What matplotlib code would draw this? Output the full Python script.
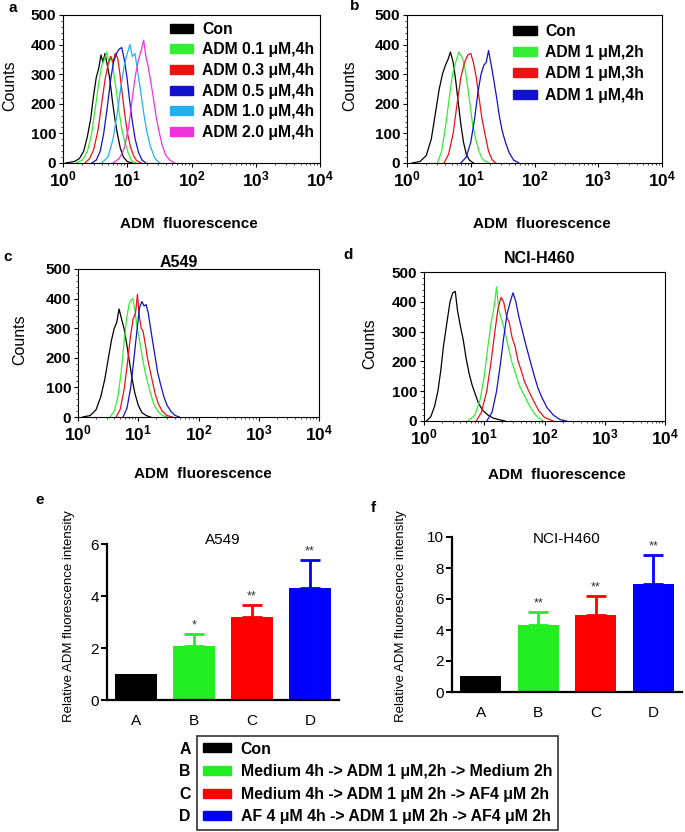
import matplotlib
matplotlib.use("Agg")
import matplotlib.pyplot as plt
import matplotlib.ticker as mticker
from matplotlib.patches import Patch
import numpy as np

plt.rcParams["font.family"] = ["Liberation Sans", "DejaVu Sans"]
plt.rcParams["mathtext.fontset"] = "custom"
plt.rcParams["mathtext.rm"] = "Liberation Sans"
plt.rcParams["mathtext.bf"] = "Liberation Sans:bold"

W, H = 685, 832

# ── Data: flow histograms (fluorescence, counts) ──────────────────────────────
# panel a
a_labels = ["Con", "ADM 0.1 μM,4h", "ADM 0.3 μM,4h", "ADM 0.5 μM,4h",
            "ADM 1.0 μM,4h", "ADM 2.0 μM,4h"]
a_colors = ["#000000", "#33ee33", "#ee1111", "#1111cc", "#22b0ee", "#ee33dd"]
a_con_x = [1.1, 1.5, 1.8, 2.1, 2.4, 2.7, 3.0, 3.3, 3.6, 3.9, 4.2, 4.5, 4.9, 5.3, 5.8, 6.4, 7.0, 7.8, 8.7, 10, 12]
a_con_y = [0, 5, 15, 40, 90, 150, 230, 290, 320, 365, 340, 370, 330, 290, 220, 150, 100, 50, 20, 5, 0]
a_01_x = [1.6, 2.0, 2.4, 2.8, 3.2, 3.6, 4.0, 4.4, 4.8, 5.2, 5.7, 6.2, 6.8, 7.5, 8.3, 9.2, 10.3, 11.5, 13.5]
a_01_y = [0, 10, 40, 100, 190, 270, 330, 350, 375, 340, 360, 300, 240, 170, 110, 70, 35, 10, 0]
a_03_x = [2.2, 2.6, 3.0, 3.5, 4.0, 4.5, 5.0, 5.5, 6.0, 6.5, 7.1, 7.7, 8.4, 9.2, 10.1, 11.2, 12.5, 14, 16.5]
a_03_y = [0, 15, 45, 110, 200, 280, 330, 360, 340, 370, 355, 300, 230, 160, 100, 55, 25, 8, 0]
a_05_x = [2.8, 3.3, 3.8, 4.3, 4.9, 5.5, 6.1, 6.8, 7.5, 8.2, 9.0, 9.9, 10.9, 12, 13.3, 15, 17, 19.5]
a_05_y = [0, 10, 40, 100, 190, 280, 340, 370, 385, 390, 350, 290, 210, 140, 80, 35, 10, 0]
a_10_x = [4.0, 5.0, 6.0, 7.0, 8.0, 9.0, 10.0, 11.0, 12.0, 13.2, 14.5, 16, 18, 20, 23, 27, 32]
a_10_y = [0, 20, 80, 170, 260, 330, 370, 400, 360, 370, 310, 250, 170, 110, 55, 15, 0]
a_20_x = [6.0, 7.5, 9.0, 10.5, 12, 13.5, 15, 16.5, 18, 19.5, 21, 23, 25.5, 28, 31, 35, 40, 47, 55]
a_20_y = [0, 15, 50, 120, 220, 300, 350, 380, 415, 360, 330, 280, 220, 160, 110, 60, 25, 8, 0]

# panel b
b_labels = ["Con", "ADM 1 μM,2h", "ADM 1 μM,3h", "ADM 1 μM,4h"]
b_colors = ["#000000", "#33ee33", "#ee1111", "#1111cc"]
b_con_x = [1.2, 1.6, 2.0, 2.4, 2.8, 3.2, 3.6, 4.0, 4.4, 4.8, 5.3, 5.8, 6.4, 7.0, 7.7, 8.5, 9.5, 11]
b_con_y = [0, 5, 25, 80, 170, 250, 300, 330, 350, 375, 340, 280, 200, 130, 70, 30, 10, 0]
b_2h_x = [3.0, 3.5, 4.0, 4.6, 5.2, 5.8, 6.5, 7.2, 8.0, 8.8, 9.7, 10.7, 12, 13.5, 15, 17, 19.5]
b_2h_y = [0, 40, 120, 220, 300, 340, 375, 360, 330, 270, 200, 130, 80, 40, 15, 5, 0]
b_3h_x = [3.8, 4.5, 5.3, 6.1, 7.0, 8.0, 9.0, 10.0, 11, 12.2, 13.5, 15, 17, 19, 21.5, 24.5]
b_3h_y = [0, 30, 100, 200, 290, 340, 365, 370, 340, 290, 220, 150, 90, 40, 12, 0]
b_4h_x = [7, 8.5, 10, 11.5, 13, 14.5, 16, 17.5, 19, 21, 23, 25.5, 28, 31, 35, 40, 47, 57]
b_4h_y = [0, 20, 70, 150, 240, 300, 330, 340, 380, 330, 280, 220, 160, 110, 70, 35, 10, 0]

# panel c (A549)
c_colors = ["#000000", "#33ee33", "#ee1111", "#1111cc"]
c_k_x = [1.2, 1.6, 2.0, 2.4, 2.8, 3.2, 3.6, 4.0, 4.4, 4.8, 5.3, 5.8, 6.4, 7.1, 7.9, 8.8, 10, 11.5, 13.5, 16]
c_k_y = [0, 5, 25, 70, 130, 200, 260, 300, 320, 365, 330, 300, 250, 190, 130, 80, 40, 15, 5, 0]
c_g_x = [3.4, 4.0, 4.6, 5.2, 5.8, 6.4, 7.0, 7.6, 8.1, 8.8, 9.6, 10.5, 11.5, 12.8, 14.2, 16, 18, 21, 25, 31]
c_g_y = [0, 20, 70, 150, 250, 330, 380, 395, 400, 360, 300, 260, 210, 160, 120, 80, 45, 20, 5, 0]
c_r_x = [4.3, 5.0, 5.8, 6.6, 7.4, 8.2, 9.0, 9.7, 10.4, 11.2, 12, 13, 14.2, 15.6, 17.2, 19, 21.5, 25, 30, 37]
c_r_y = [0, 25, 90, 180, 270, 330, 350, 415, 340, 300, 290, 250, 200, 160, 120, 80, 45, 20, 5, 0]
c_b_x = [5.6, 6.5, 7.5, 8.5, 9.5, 10.5, 11.5, 12.5, 13.5, 14.7, 16, 17.5, 19.2, 21, 23.5, 26.5, 30, 35, 41, 48]
c_b_y = [0, 30, 100, 200, 290, 370, 390, 375, 380, 350, 300, 250, 200, 150, 110, 70, 40, 18, 5, 0]

# panel d (NCI-H460)
d_k_x = [1.1, 1.3, 1.5, 1.7, 1.9, 2.1, 2.4, 2.7, 3.0, 3.3, 3.6, 4.0, 4.5, 5.0, 5.6, 6.3, 7.1, 8.0, 9.5, 11.5, 14, 18, 22]
d_k_y = [0, 15, 50, 100, 170, 250, 330, 400, 430, 435, 370, 320, 270, 210, 160, 120, 90, 60, 35, 20, 10, 4, 0]
d_g_x = [5.4, 7, 8.5, 10, 11.5, 13, 14.5, 16, 17.5, 19.5, 22, 25, 28.5, 33, 38, 45, 55, 68, 80, 95]
d_g_y = [0, 20, 70, 150, 250, 330, 380, 450, 370, 340, 300, 250, 200, 160, 120, 90, 55, 25, 10, 0]
d_r_x = [7.4, 9, 11, 13, 15, 17, 19, 21, 23.5, 26, 29, 32.5, 36.5, 41, 47, 55, 65, 80, 100, 140]
d_r_y = [0, 30, 100, 200, 300, 380, 415, 400, 350, 330, 280, 250, 200, 170, 130, 100, 70, 35, 12, 0]
d_b_x = [11, 13.5, 16, 18.5, 21, 24, 27, 30, 33.5, 37.5, 42, 47, 53, 60, 68, 78, 90, 110, 140, 180, 230]
d_b_y = [0, 30, 100, 190, 280, 360, 400, 430, 400, 350, 310, 270, 230, 190, 150, 110, 80, 45, 20, 5, 0]

# ── Data: relative fluorescence bars ──────────────────────────────────────────
groups = ["A", "B", "C", "D"]
bar_colors = ["#000000", "#22ee22", "#ff0000", "#0000ff"]
e_mean = [1.0, 2.08, 3.2, 4.3]
e_err = [0.0, 0.46, 0.45, 1.07]
e_stars = ["", "*", "**", "**"]
f_mean = [1.05, 4.35, 5.0, 7.0]
f_err = [0.0, 0.8, 1.2, 1.85]
f_stars = ["", "**", "**", "**"]
legend_labels = ["Con",
                 "Medium 4h -> ADM 1 μM,2h -> Medium 2h",
                 "Medium 4h -> ADM 1 μM 2h -> AF4 μM 2h",
                 "AF 4 μM 4h -> ADM 1 μM 2h -> AF4 μM 2h"]


def box(l, t, r, b):
    return [l / W, 1 - b / H, (r - l) / W, (b - t) / H]


fig = plt.figure(figsize=(W / 100, H / 100), dpi=100)


def hist_axes(rect, curves, colors):
    ax = fig.add_axes(rect)
    for (x, y), c in zip(curves, colors):
        ax.plot(x, y, color=c, lw=0.9)
    ax.set_xscale("log")
    ax.set_xlim(1, 1e4)
    ax.set_ylim(0, 500)
    ax.set_yticks([0, 100, 200, 300, 400, 500])
    ax.yaxis.set_minor_locator(mticker.MultipleLocator(20))
    ax.xaxis.set_major_locator(mticker.LogLocator(base=10, numticks=10))
    ax.xaxis.set_major_formatter(mticker.FuncFormatter(
        lambda v, _: r"$\mathbf{10^{%d}}$" % round(np.log10(v))))
    ax.xaxis.set_minor_locator(mticker.LogLocator(base=10, subs=np.arange(2, 10), numticks=10))
    ax.xaxis.set_minor_formatter(mticker.NullFormatter())
    ax.tick_params(which="major", length=3, width=0.8, labelsize=11, pad=2)
    ax.tick_params(axis="x", which="major", labelsize=12.5)
    ax.tick_params(which="minor", length=1.5, width=0.5)
    for t in ax.get_yticklabels():
        t.set_fontweight("bold")
    for s in ax.spines.values():
        s.set_linewidth(0.8)
    ax.set_ylabel("Counts", fontsize=11.5)
    ax.set_xlabel("ADM  fluorescence", fontsize=11, fontweight="bold")
    return ax


ax_a = hist_axes(box(63, 15, 320, 163),
                 [(a_con_x, a_con_y), (a_01_x, a_01_y), (a_03_x, a_03_y),
                  (a_05_x, a_05_y), (a_10_x, a_10_y), (a_20_x, a_20_y)], a_colors)
ax_a.yaxis.set_label_coords(-46 / 257, 0.52)
ax_a.xaxis.set_label_coords(0.49, -54 / 148)
ax_a.legend([Patch(color=c) for c in a_colors], a_labels, loc="upper left",
            bbox_to_anchor=(0.416, 0.955), frameon=False, borderpad=0, borderaxespad=0,
            handlelength=1.5, handleheight=0.5, handletextpad=0.55, labelspacing=0.36,
            prop={"size": 11.3, "weight": "bold"})

ax_b = hist_axes(box(407, 15, 662, 163),
                 [(b_con_x, b_con_y), (b_2h_x, b_2h_y), (b_3h_x, b_3h_y), (b_4h_x, b_4h_y)],
                 b_colors)
ax_b.yaxis.set_label_coords(-50 / 255, 0.52)
ax_b.xaxis.set_label_coords(0.53, -54 / 148)
ax_b.legend([Patch(color=c) for c in b_colors], b_labels, loc="upper left",
            bbox_to_anchor=(0.416, 0.94), frameon=False, borderpad=0, borderaxespad=0,
            handlelength=1.5, handleheight=0.5, handletextpad=0.55, labelspacing=0.4,
            prop={"size": 11.3, "weight": "bold"})

ax_c = hist_axes(box(78, 269, 319, 417),
                 [(c_k_x, c_k_y), (c_g_x, c_g_y), (c_r_x, c_r_y), (c_b_x, c_b_y)], c_colors)
ax_c.yaxis.set_label_coords(-51 / 241, 0.52)
ax_c.xaxis.set_label_coords(0.52, -50 / 148)
ax_c.text(0.42, 1.015, "A549", transform=ax_c.transAxes, ha="center", va="baseline",
          fontsize=11.5, fontweight="bold")

ax_d = hist_axes(box(424, 272, 665, 421),
                 [(d_k_x, d_k_y), (d_g_x, d_g_y), (d_r_x, d_r_y), (d_b_x, d_b_y)], c_colors)
ax_d.yaxis.set_label_coords(-47 / 241, 0.52)
ax_d.xaxis.set_label_coords(0.55, -47 / 149)
ax_d.text(0.48, 1.06, "NCI-H460", transform=ax_d.transAxes, ha="center", va="baseline",
          fontsize=11.5, fontweight="bold")


def bar_axes(rect, means, errs, stars, ymax, step, title, title_y, ylab_x, ylab_y):
    ax = fig.add_axes(rect)
    x = np.arange(len(groups))
    ax.bar(x, means, width=0.71, color=bar_colors)
    for i in range(len(groups)):
        if errs[i] > 0:
            ax.errorbar(x[i], means[i], yerr=[[0], [errs[i]]], fmt="none",
                        ecolor=bar_colors[i], elinewidth=2, capsize=7, capthick=2)
            ax.annotate(stars[i], (x[i], means[i] + errs[i]), xytext=(0, 2),
                        textcoords="offset points", ha="center", va="bottom",
                        fontsize=9, color="#333333")
    ax.set_xlim(-0.5, 3.5)
    ax.set_ylim(0, ymax)
    ax.set_yticks(np.arange(0, ymax + 0.01, step))
    ax.set_xticks(x)
    ax.set_xticklabels(groups)
    ax.spines[["top", "right"]].set_visible(False)
    ax.spines["left"].set_linewidth(1.6)
    ax.spines["bottom"].set_linewidth(1.6)
    ax.tick_params(axis="y", length=4, width=1.4, labelsize=11, pad=2)
    ax.tick_params(axis="x", length=0, labelsize=11, pad=10)
    ax.set_ylabel("Relative ADM fluorescence intensity", fontsize=9.5)
    ax.yaxis.set_label_coords(ylab_x, ylab_y)
    ax.text(0.5, title_y, title, transform=ax.transAxes, ha="center", va="baseline",
            fontsize=11)
    return ax


ax_e = bar_axes(box(107, 544, 339, 700), e_mean, e_err, e_stars, 6, 2, "A549", 1.0,
                -32 / 232, 0.535)
ax_f = bar_axes(box(452, 537, 682, 692), f_mean, f_err, f_stars, 10, 2, "NCI-H460", 0.961,
                -45 / 230, 0.49)

# panel letters
for lab, px, py in [("a", 13, 8), ("b", 355, 6), ("c", 8, 257), ("d", 348, 255),
                    ("e", 40, 500), ("f", 373, 508)]:
    fig.text(px / W, 1 - py / H, lab, fontsize=11, fontweight="bold", ha="center", va="center")

# bottom legend
leg = fig.legend([Patch(color=c) for c in bar_colors], legend_labels, loc="upper left",
                 bbox_to_anchor=(197 / W, 1 - 736 / H), frameon=True, fancybox=False,
                 edgecolor="black", borderpad=0.35, borderaxespad=0, handlelength=1.8,
                 handleheight=0.5, handletextpad=0.6, labelspacing=0.48,
                 prop={"size": 11.4, "weight": "bold"})
leg.get_frame().set_linewidth(1.2)
fig.canvas.draw()
inv = fig.transFigure.inverted()
for lab, txt in zip(groups, leg.get_texts()):
    bb = txt.get_window_extent()
    yc = inv.transform((0, (bb.y0 + bb.y1) / 2))[1]
    fig.text(185 / W, yc, lab, fontsize=11.4, fontweight="bold", ha="center", va="center")

fig.savefig("out.png", dpi=100)
